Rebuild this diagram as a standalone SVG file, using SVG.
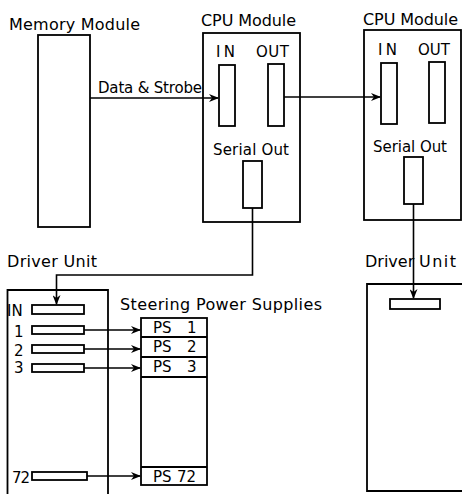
<svg xmlns="http://www.w3.org/2000/svg" width="462" height="494" viewBox="0 0 462 494">
<defs>
<marker id="ah" markerWidth="10" markerHeight="8" refX="9" refY="4" orient="auto" markerUnits="userSpaceOnUse">
<path d="M0,0 L10,4 L0,8 L3,4 z" fill="#000"/>
</marker>
<style>
.b{fill:#fff;stroke:#000;stroke-width:1.8}
.o{fill:none;stroke:#000;stroke-width:1.8}
.c{fill:none;stroke:#000;stroke-width:1.6;marker-end:url(#ah)}
text{font-family:"DejaVu Sans","Liberation Sans",sans-serif;fill:#000}
.t16{font-size:16px}
.t15{font-size:15px}
</style>
</defs>
<rect width="462" height="494" fill="#fff"/>

<g id="memory-module">
<text class="t16" x="9" y="30" textLength="131">Memory Module</text>
<rect class="b" x="38" y="35" width="52" height="192"/>
</g>

<g id="cpu-module-1">
<text class="t16" x="201" y="26" textLength="95">CPU Module</text>
<rect class="b" x="203" y="33" width="97" height="189"/>
<text class="t15" x="216" y="57" textLength="19">IN</text>
<rect class="b" x="219" y="65" width="16" height="61"/>
<text class="t15" x="256" y="57" textLength="33">OUT</text>
<rect class="b" x="268" y="64" width="16" height="62"/>
<text class="t15" x="213" y="155" textLength="76">Serial Out</text>
<rect class="b" x="243" y="161" width="19" height="47"/>
</g>

<g id="cpu-module-2">
<text class="t16" x="363" y="25" textLength="95">CPU Module</text>
<rect class="b" x="364" y="30" width="97" height="190"/>
<text class="t15" x="378" y="55" textLength="19">IN</text>
<rect class="b" x="381" y="63" width="16" height="61"/>
<text class="t15" x="418" y="55" textLength="32">OUT</text>
<rect class="b" x="429" y="62" width="16" height="61"/>
<text class="t15" x="373" y="152" textLength="74">Serial Out</text>
<rect class="b" x="404" y="157" width="19" height="47"/>
</g>

<g id="driver-unit-1">
<text class="t16" x="7" y="267" textLength="90">Driver Unit</text>
<path class="o" d="M7.5,494 V290 H108 V494"/>
<text class="t15" x="7" y="316">IN</text>
<rect class="b" x="32" y="305" width="52" height="9"/>
<text class="t15" x="14" y="337">1</text>
<rect class="b" x="32" y="326" width="52" height="8"/>
<text class="t15" x="14" y="356">2</text>
<rect class="b" x="32" y="345" width="52" height="8"/>
<text class="t15" x="14" y="373">3</text>
<rect class="b" x="32" y="364" width="52" height="8"/>
<text class="t15" x="12" y="483" textLength="18">72</text>
<rect class="b" x="32" y="472" width="55" height="8"/>
</g>

<g id="steering-power-supplies">
<text class="t16" x="120" y="310" textLength="202">Steering Power Supplies</text>
<rect class="b" x="141" y="318" width="66" height="167"/>
<line class="o" x1="141" y1="337" x2="207" y2="337"/>
<line class="o" x1="141" y1="357" x2="207" y2="357"/>
<line class="o" x1="141" y1="377" x2="207" y2="377"/>
<line class="o" x1="141" y1="467" x2="207" y2="467"/>
<text class="t15" x="153" y="333">PS <tspan x="187">1</tspan></text>
<text class="t15" x="153" y="352">PS <tspan x="187">2</tspan></text>
<text class="t15" x="153" y="372">PS <tspan x="187">3</tspan></text>
<text class="t15" x="153" y="482">PS<tspan x="177">72</tspan></text>
</g>

<g id="driver-unit-2">
<text class="t16" x="365" y="267">Driver <tspan x="419" letter-spacing="1.5">Unit</tspan></text>
<path class="o" d="M470,284 H367 V491 H470"/>
<rect class="b" x="390" y="299" width="50" height="10"/>
</g>

<g id="connectors">
<path class="c" d="M90,98 H218"/>
<text class="t15" x="98" y="93" textLength="104">Data &amp; Strobe</text>
<path class="c" d="M284,97 H380"/>
<path class="c" d="M252.5,208 V275 H56.5 V304"/>
<path class="c" d="M413.5,204 V298"/>
<path class="c" d="M84,330 H140"/>
<path class="c" d="M84,349 H140"/>
<path class="c" d="M84,368 H140"/>
<path class="c" d="M87,476 H140"/>
</g>
</svg>
